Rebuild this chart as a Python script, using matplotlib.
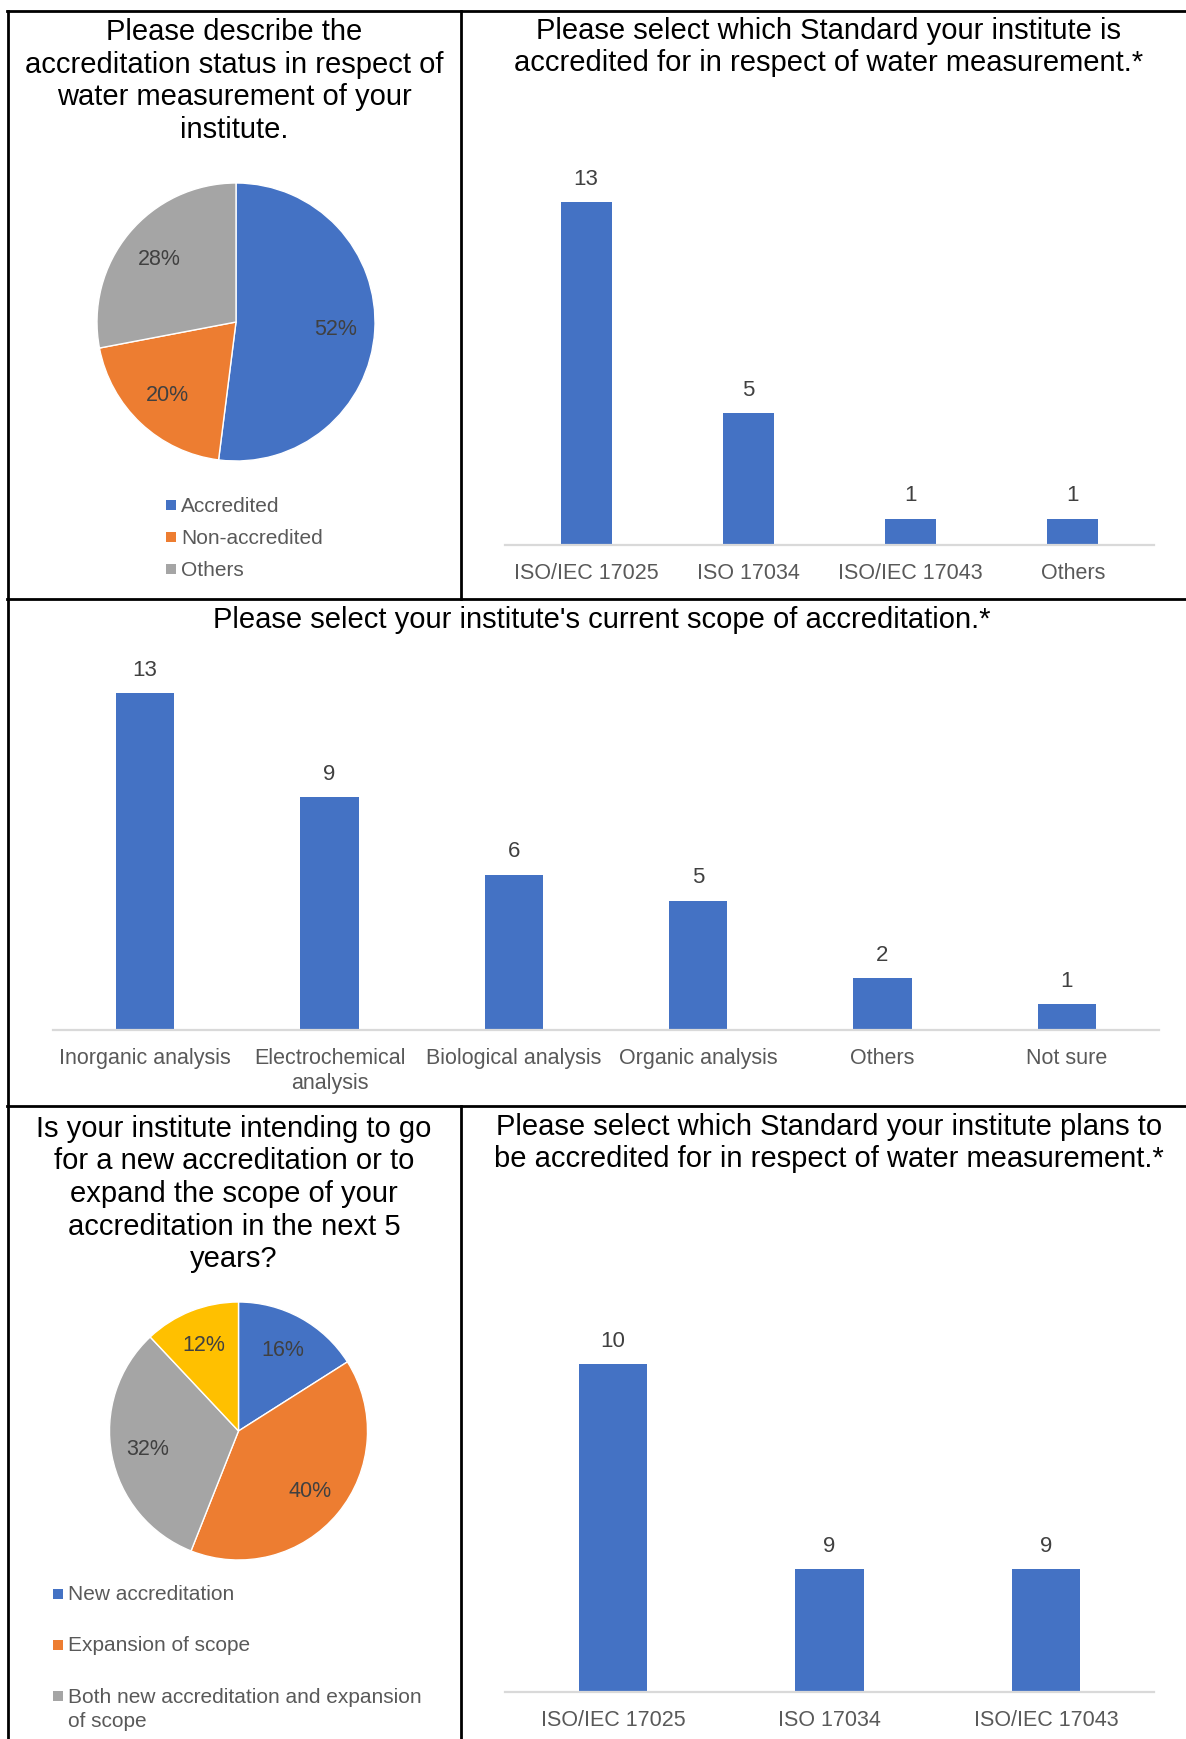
import matplotlib
matplotlib.use('Agg')
import matplotlib.pyplot as plt
from matplotlib.lines import Line2D
from matplotlib.patches import Rectangle

plt.rcParams['font.family'] = ['Liberation Sans', 'DejaVu Sans']

W, H = 1186, 1740

BLUE = '#4472C4'
ORANGE = '#ED7D31'
GREY = '#A5A5A5'
GOLD = '#FFC000'
LABEL_C = '#595959'
VALUE_C = '#404040'

# survey answers
status_labels = ['Accredited', 'Non-accredited', 'Others']
status_share = [52, 20, 28]

std_now_labels = ['ISO/IEC 17025', 'ISO 17034', 'ISO/IEC 17043', 'Others']
std_now_counts = [13, 5, 1, 1]

scope_labels = ['Inorganic analysis', 'Electrochemical\nanalysis', 'Biological analysis',
                'Organic analysis', 'Others', 'Not sure']
scope_counts = [13, 9, 6, 5, 2, 1]

plan_labels = ['New accreditation', 'Expansion of scope',
               'Both new accreditation and expansion\nof scope']
plan_share = [16, 40, 32, 12]

std_plan_labels = ['ISO/IEC 17025', 'ISO 17034', 'ISO/IEC 17043']
std_plan_counts = [10, 9, 9]

titles = [
    ('Please describe the\naccreditation status in respect of\nwater measurement of your\ninstitute.', 234, 81),
    ('Please select which Standard your institute is\naccredited for in respect of water measurement.*', 829, 47),
    ("Please select your institute's current scope of accreditation.*", 602, 620),
    ('Is your institute intending to go\nfor a new accreditation or to\nexpand the scope of your\naccreditation in the next 5\nyears?', 234, 1194),
    ('Please select which Standard your institute plans to\nbe accredited for in respect of water measurement.*', 829, 1143),
]

fig = plt.figure(figsize=(W / 100, H / 100), dpi=100)


def px_axes(x0, y0, x1, y1):
    return fig.add_axes([x0 / W, 1 - y1 / H, (x1 - x0) / W, (y1 - y0) / H])


def fx(x):
    return x / W


def fy(y):
    return 1 - y / H


def bar_panel(box, labels, counts, ylim):
    ax = px_axes(*box)
    x = list(range(len(counts)))
    bars = ax.bar(x, counts, width=0.315, color=BLUE)
    ax.set_xlim(-0.5, len(counts) - 0.5)
    ax.set_ylim(*ylim)
    for s in ['top', 'right', 'left']:
        ax.spines[s].set_visible(False)
    ax.spines['bottom'].set_color('#D9D9D9')
    ax.spines['bottom'].set_linewidth(1.6)
    ax.set_yticks([])
    ax.set_xticks(x, labels)
    ax.tick_params(axis='x', length=0, pad=12, labelsize=15.5, labelcolor=LABEL_C)
    for t in ax.get_xticklabels():
        t.set_linespacing(1.3)
    for b, v in zip(bars, counts):
        ax.annotate(str(v), (b.get_x() + b.get_width() / 2, v), xytext=(0, 17),
                    textcoords='offset points', ha='center', va='center',
                    fontsize=16, color=VALUE_C)
    return ax


def pie_panel(cx, cy, r, shares, colors):
    ax = px_axes(cx - r, cy - r, cx + r, cy + r)
    ax.pie(shares, colors=colors, startangle=90, counterclock=False,
           autopct='%1.0f%%', pctdistance=0.72,
           textprops=dict(fontsize=15.5, color=VALUE_C),
           wedgeprops=dict(edgecolor='white', linewidth=1))
    ax.set_xlim(-1, 1)
    ax.set_ylim(-1, 1)
    return ax


def legend_rows(x, ys, labels, colors):
    for y, lab, c in zip(ys, labels, colors):
        fig.add_artist(Rectangle((fx(x - 5), fy(y + 5)), 10 / W, 10 / H,
                                 transform=fig.transFigure, color=c, lw=0))
        n = lab.count('\n')
        # first line stays level with the square, extra lines hang below it
        fig.text(fx(x + 10), fy(y + n * 12.5), lab, ha='left', va='center',
                 fontsize=15, color=LABEL_C, linespacing=1.3)


# top left: accreditation status
pie_panel(236, 323, 139, status_share, [BLUE, ORANGE, GREY])
legend_rows(171, [506, 538, 570], status_labels, [BLUE, ORANGE, GREY])

# top right: current standard
bar_panel((505, 546 - 14 * 26.4, 1154, 546), std_now_labels, std_now_counts, (0, 14))

# middle: scope of accreditation
bar_panel((53, 1031 - 14 * 25.9, 1159, 1031), scope_labels, scope_counts, (0, 14))

# bottom left: plans for the next 5 years
pie_panel(238.5, 1432, 129, plan_share, [BLUE, ORANGE, GREY, GOLD])
legend_rows(57.5, [1595, 1646, 1697], plan_labels, [BLUE, ORANGE, GREY])

# bottom right: planned standard
bar_panel((505, 1693 - 1.8 * 205, 1154, 1693), std_plan_labels, std_plan_counts, (8.4, 10.2))

for text, x, y in titles:
    fig.text(fx(x), fy(y), text, ha='center', va='center', fontsize=21,
             color='black', linespacing=1.21)

# table borders
segments = [
    ((7, 12), (W, 12)),
    ((7.5, 12), (7.5, H)),
    ((461, 12), (461, 600)),
    ((7, 600), (W, 600)),
    ((7, 1107), (W, 1107)),
    ((461, 1107), (461, H)),
]
for (x0, y0), (x1, y1) in segments:
    fig.add_artist(Line2D([fx(x0), fx(x1)], [fy(y0), fy(y1)],
                          transform=fig.transFigure, color='black', lw=2))

fig.savefig('out.png', dpi=100)
